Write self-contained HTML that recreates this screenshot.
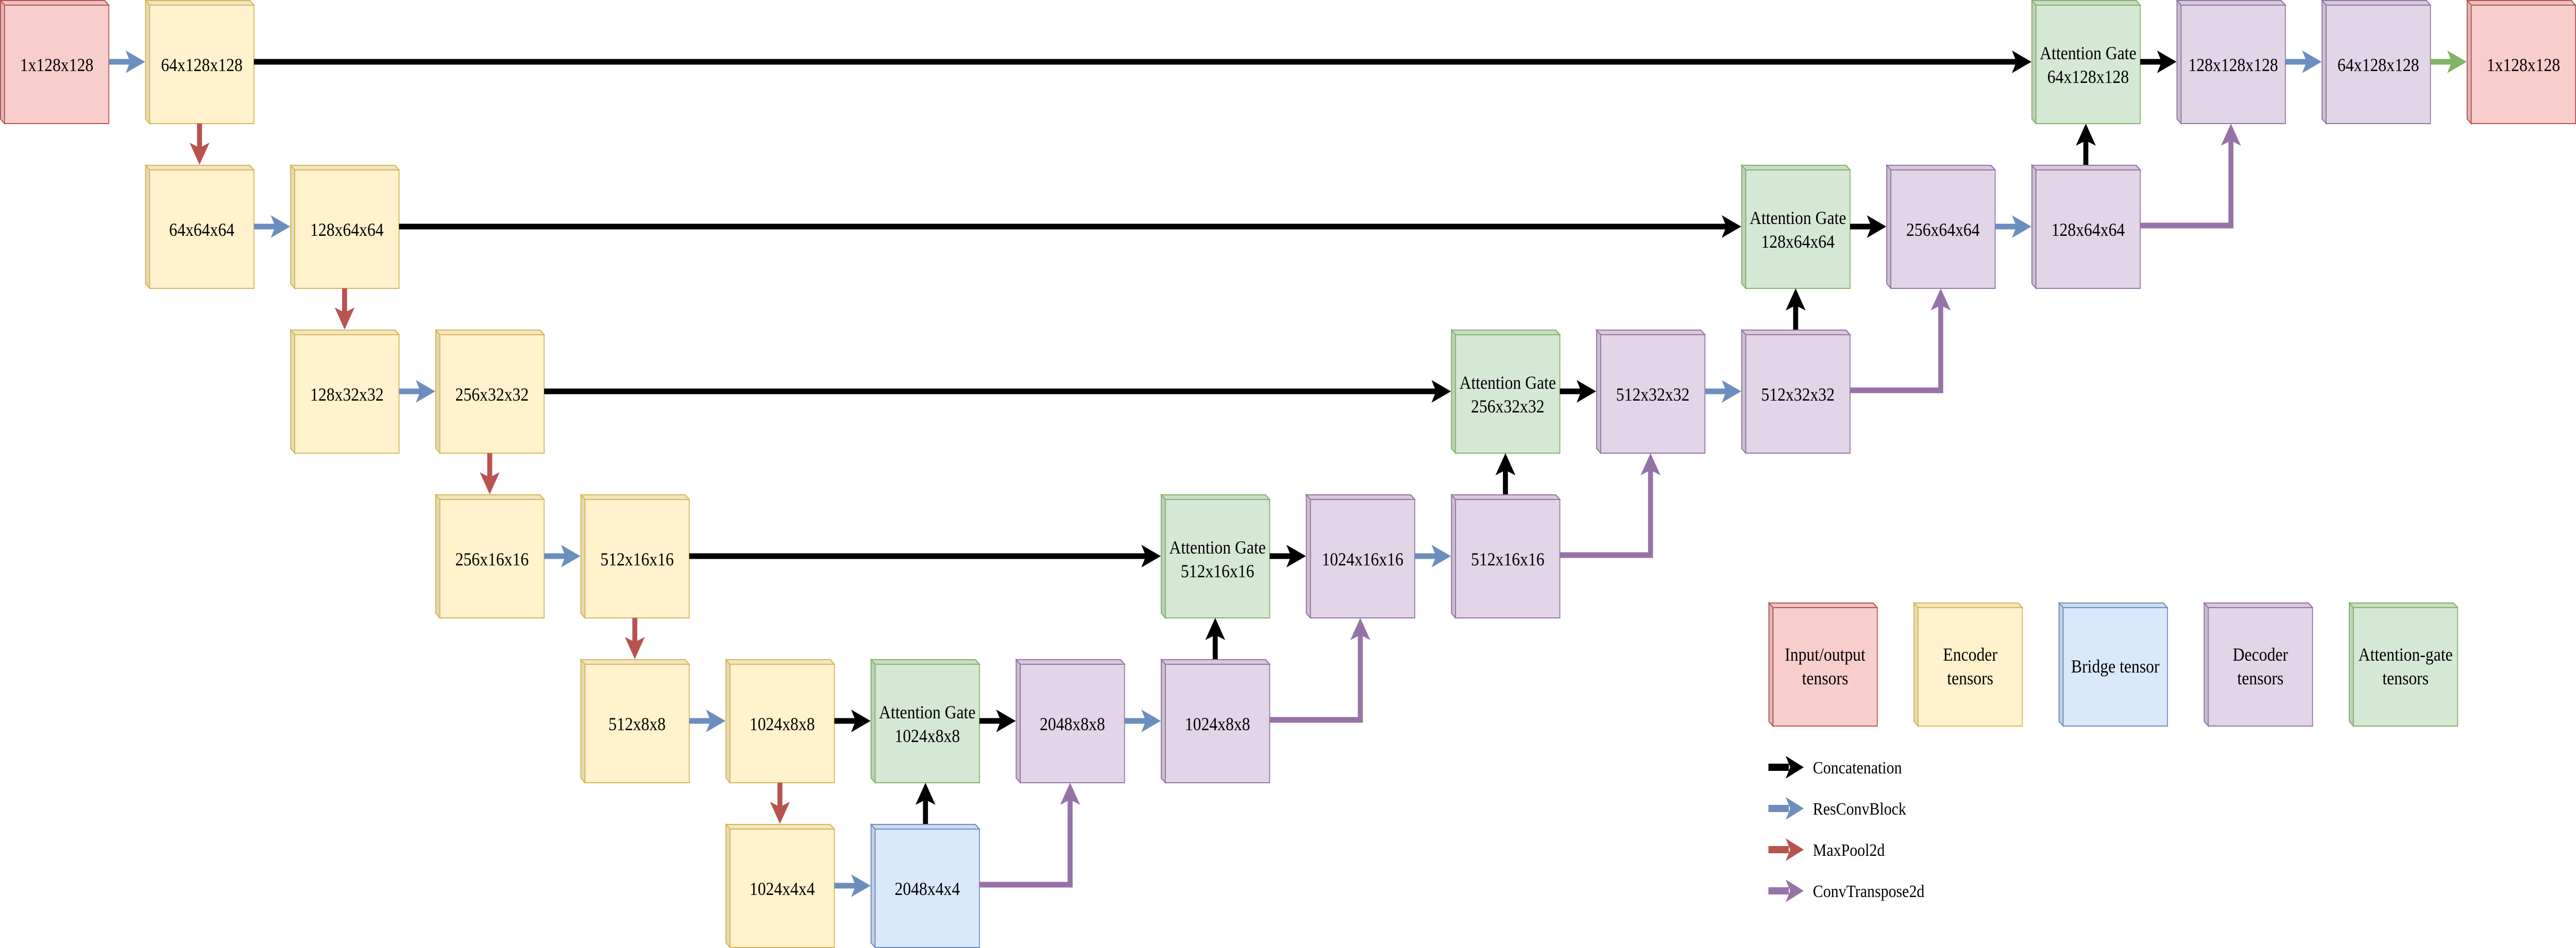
<!DOCTYPE html>
<html><head><meta charset="utf-8"><style>
html,body{margin:0;padding:0;background:#fff;overflow:hidden;width:100%;height:100%;}
svg{display:block;width:100vw;height:100vh;}
text{font-family:"Liberation Serif",serif;font-size:36px;fill:#000;text-anchor:middle;}
.lg{text-anchor:start;font-size:34px;}
</style></head><body>
<svg viewBox="0 0 5681 1841" preserveAspectRatio="none" xmlns="http://www.w3.org/2000/svg">
<defs>
<g id="cube" stroke-width="2">
<path d="M1 1 H231 L240 10 V240 H10 L1 231 Z"/>
<path d="M1 1 L10 10 V240 L1 231Z" fill="#000" fill-opacity=".1"/>
<path d="M1 1 H231 L240 10 H10Z" fill="#000" fill-opacity=".05"/>
<path d="M10 10 H240 M10 10 V240" fill="none"/>
</g>
</defs>
<g>
<use href="#cube" x="0" y="0" fill="#f8cecc" stroke="#b85450"/>
<use href="#cube" x="320" y="0" fill="#fff2cc" stroke="#d6b656"/>
<use href="#cube" x="4480" y="0" fill="#d5e8d4" stroke="#82b366"/>
<use href="#cube" x="4800" y="0" fill="#e1d5e7" stroke="#9673a6"/>
<use href="#cube" x="5120" y="0" fill="#e1d5e7" stroke="#9673a6"/>
<use href="#cube" x="5440" y="0" fill="#f8cecc" stroke="#b85450"/>

<use href="#cube" x="320" y="320" fill="#fff2cc" stroke="#d6b656"/>
<use href="#cube" x="640" y="320" fill="#fff2cc" stroke="#d6b656"/>
<use href="#cube" x="3840" y="320" fill="#d5e8d4" stroke="#82b366"/>
<use href="#cube" x="4160" y="320" fill="#e1d5e7" stroke="#9673a6"/>
<use href="#cube" x="4480" y="320" fill="#e1d5e7" stroke="#9673a6"/>

<use href="#cube" x="640" y="640" fill="#fff2cc" stroke="#d6b656"/>
<use href="#cube" x="960" y="640" fill="#fff2cc" stroke="#d6b656"/>
<use href="#cube" x="3200" y="640" fill="#d5e8d4" stroke="#82b366"/>
<use href="#cube" x="3520" y="640" fill="#e1d5e7" stroke="#9673a6"/>
<use href="#cube" x="3840" y="640" fill="#e1d5e7" stroke="#9673a6"/>

<use href="#cube" x="960" y="960" fill="#fff2cc" stroke="#d6b656"/>
<use href="#cube" x="1280" y="960" fill="#fff2cc" stroke="#d6b656"/>
<use href="#cube" x="2560" y="960" fill="#d5e8d4" stroke="#82b366"/>
<use href="#cube" x="2880" y="960" fill="#e1d5e7" stroke="#9673a6"/>
<use href="#cube" x="3200" y="960" fill="#e1d5e7" stroke="#9673a6"/>

<use href="#cube" x="1280" y="1280" fill="#fff2cc" stroke="#d6b656"/>
<use href="#cube" x="1600" y="1280" fill="#fff2cc" stroke="#d6b656"/>
<use href="#cube" x="1920" y="1280" fill="#d5e8d4" stroke="#82b366"/>
<use href="#cube" x="2240" y="1280" fill="#e1d5e7" stroke="#9673a6"/>
<use href="#cube" x="2560" y="1280" fill="#e1d5e7" stroke="#9673a6"/>

<use href="#cube" x="1600" y="1600" fill="#fff2cc" stroke="#d6b656"/>
<use href="#cube" x="1920" y="1600" fill="#dae8fc" stroke="#6c8ebf"/>

<use href="#cube" x="3900" y="1170" fill="#f8cecc" stroke="#b85450"/>
<use href="#cube" x="4220" y="1170" fill="#fff2cc" stroke="#d6b656"/>
<use href="#cube" x="4540" y="1170" fill="#dae8fc" stroke="#6c8ebf"/>
<use href="#cube" x="4860" y="1170" fill="#e1d5e7" stroke="#9673a6"/>
<use href="#cube" x="5180" y="1170" fill="#d5e8d4" stroke="#82b366"/>
</g>

<text x="125" y="138">1x128x128</text>
<text x="445" y="138">64x128x128</text>
<text x="4605" y="115">Attention Gate</text><text x="4605" y="161">64x128x128</text>
<text x="4925" y="138">128x128x128</text>
<text x="5245" y="138">64x128x128</text>
<text x="5565" y="138">1x128x128</text>

<text x="445" y="458">64x64x64</text>
<text x="765" y="458">128x64x64</text>
<text x="3965" y="435">Attention Gate</text><text x="3965" y="481">128x64x64</text>
<text x="4285" y="458">256x64x64</text>
<text x="4605" y="458">128x64x64</text>

<text x="765" y="778">128x32x32</text>
<text x="1085" y="778">256x32x32</text>
<text x="3325" y="755">Attention Gate</text><text x="3325" y="801">256x32x32</text>
<text x="3645" y="778">512x32x32</text>
<text x="3965" y="778">512x32x32</text>

<text x="1085" y="1098">256x16x16</text>
<text x="1405" y="1098">512x16x16</text>
<text x="2685" y="1075">Attention Gate</text><text x="2685" y="1121">512x16x16</text>
<text x="3005" y="1098">1024x16x16</text>
<text x="3325" y="1098">512x16x16</text>

<text x="1405" y="1418">512x8x8</text>
<text x="1725" y="1418">1024x8x8</text>
<text x="2045" y="1395">Attention Gate</text><text x="2045" y="1441">1024x8x8</text>
<text x="2365" y="1418">2048x8x8</text>
<text x="2685" y="1418">1024x8x8</text>

<text x="1725" y="1738">1024x4x4</text>
<text x="2045" y="1738">2048x4x4</text>

<text x="4025" y="1283">Input/output</text><text x="4025" y="1329">tensors</text>
<text x="4345" y="1283">Encoder</text><text x="4345" y="1329">tensors</text>
<text x="4665" y="1306">Bridge tensor</text>
<text x="4985" y="1283">Decoder</text><text x="4985" y="1329">tensors</text>
<text x="5305" y="1283">Attention-gate</text><text x="5305" y="1329">tensors</text>

<g stroke="#6c8ebf" stroke-width="11" fill="none">
<path d="M240 120H292M5040 120H5092M560 440H612M4400 440H4452M880 760H932M3760 760H3812M1200 1080H1252M3120 1080H3172M1520 1400H1572M2480 1400H2532M1840 1720H1892"/>
</g>
<g fill="#6c8ebf">
<path d="M320 120L277 98L287 120L277 142Z"/>
<path d="M5120 120L5077 98L5087 120L5077 142Z"/>
<path d="M640 440L597 418L607 440L597 462Z"/>
<path d="M4480 440L4437 418L4447 440L4437 462Z"/>
<path d="M960 760L917 738L927 760L917 782Z"/>
<path d="M3840 760L3797 738L3807 760L3797 782Z"/>
<path d="M1280 1080L1237 1058L1247 1080L1237 1102Z"/>
<path d="M3200 1080L3157 1058L3167 1080L3157 1102Z"/>
<path d="M1600 1400L1557 1378L1567 1400L1557 1422Z"/>
<path d="M2560 1400L2517 1378L2527 1400L2517 1422Z"/>
<path d="M1920 1720L1877 1698L1887 1720L1877 1742Z"/>
</g>
<path d="M5360 120H5412" stroke="#82b366" stroke-width="11"/>
<path d="M5440 120L5397 98L5407 120L5397 142Z" fill="#82b366"/>

<g stroke="#b85450" stroke-width="11">
<path d="M440 240V292M760 560V612M1080 880V932M1400 1200V1252M1720 1520V1572"/>
</g>
<g fill="#b85450">
<path d="M440 320L418 277L440 287L462 277Z"/>
<path d="M760 640L738 597L760 607L782 597Z"/>
<path d="M1080 960L1058 917L1080 927L1102 917Z"/>
<path d="M1400 1280L1378 1237L1400 1247L1422 1237Z"/>
<path d="M1720 1600L1698 1557L1720 1567L1742 1557Z"/>
</g>

<g stroke="#000" stroke-width="11" fill="none">
<path d="M560 120H4452M4720 120H4772M880 440H3812M4080 440H4132M1200 760H3172M3440 760H3492M1520 1080H2532M2800 1080H2852M1840 1400H1892M2160 1400H2212"/>
<path d="M2041 1600V1548M2680 1280V1228M3320 960V908M3960 640V588M4600 320V268"/>
</g>
<g fill="#000">
<path d="M4480 120L4437 98L4447 120L4437 142Z"/>
<path d="M4800 120L4757 98L4767 120L4757 142Z"/>
<path d="M3840 440L3797 418L3807 440L3797 462Z"/>
<path d="M4160 440L4117 418L4127 440L4117 462Z"/>
<path d="M3200 760L3157 738L3167 760L3157 782Z"/>
<path d="M3520 760L3477 738L3487 760L3477 782Z"/>
<path d="M2560 1080L2517 1058L2527 1080L2517 1102Z"/>
<path d="M2880 1080L2837 1058L2847 1080L2837 1102Z"/>
<path d="M1920 1400L1877 1378L1887 1400L1877 1422Z"/>
<path d="M2240 1400L2197 1378L2207 1400L2197 1422Z"/>
<path d="M2041 1520L2019 1563L2041 1553L2063 1563Z"/>
<path d="M2680 1200L2658 1243L2680 1233L2702 1243Z"/>
<path d="M3320 880L3298 923L3320 913L3342 923Z"/>
<path d="M3960 560L3938 603L3960 593L3982 603Z"/>
<path d="M4600 240L4578 283L4600 273L4622 283Z"/>
</g>

<g stroke="#9673a6" stroke-width="11" fill="none">
<path d="M2160 1718H2360V1548"/>
<path d="M2800 1398H3000V1228"/>
<path d="M3440 1078H3640V908"/>
<path d="M4080 758H4280V588"/>
<path d="M4720 438H4920V268"/>
</g>
<g fill="#9673a6">
<path d="M2360 1520L2338 1563L2360 1553L2382 1563Z"/>
<path d="M3000 1200L2978 1243L3000 1233L3022 1243Z"/>
<path d="M3640 880L3618 923L3640 913L3662 923Z"/>
<path d="M4280 560L4258 603L4280 593L4302 603Z"/>
<path d="M4920 240L4898 283L4920 273L4942 283Z"/>
</g>

<g stroke-width="14">
<path d="M3900 1490H3945" stroke="#000"/>
<path d="M3900 1570H3945" stroke="#6c8ebf"/>
<path d="M3900 1650H3945" stroke="#b85450"/>
<path d="M3900 1730H3945" stroke="#9673a6"/>
</g>
<path d="M3978 1490L3938 1468L3948 1490L3938 1512Z" fill="#000"/>
<path d="M3978 1570L3938 1548L3948 1570L3938 1592Z" fill="#6c8ebf"/>
<path d="M3978 1650L3938 1628L3948 1650L3938 1672Z" fill="#b85450"/>
<path d="M3978 1730L3938 1708L3948 1730L3938 1752Z" fill="#9673a6"/>
<text class="lg" x="3998" y="1502">Concatenation</text>
<text class="lg" x="3998" y="1582">ResConvBlock</text>
<text class="lg" x="3998" y="1662">MaxPool2d</text>
<text class="lg" x="3998" y="1742">ConvTranspose2d</text>
</svg>
</body></html>
